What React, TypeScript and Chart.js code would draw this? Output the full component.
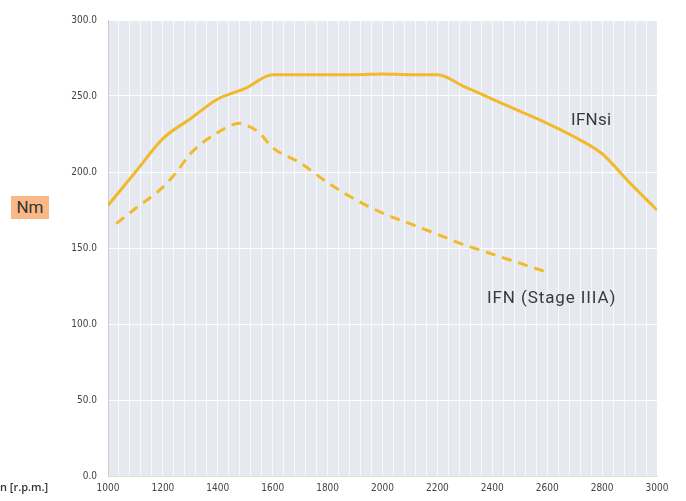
import React, { useEffect, useRef } from "react";
import { Chart, registerables } from "chart.js";

Chart.register(...registerables);

const ifnsiRpm = [1000, 1100, 1200, 1300, 1400, 1500, 1600, 1700, 1800, 1900, 2000, 2100, 2200, 2300, 2400, 2500, 2600, 2700, 2800, 2900, 3000];
const ifnsiTorque = [178, 200, 222, 235, 248, 255, 264, 264, 264, 264, 264.5, 264, 264, 256, 248, 240, 232, 223, 212, 193, 175];

const ifnRpm = [1030, 1100, 1200, 1250, 1300, 1400, 1480, 1500, 1550, 1600, 1700, 1800, 1900, 2000, 2100, 2200, 2300, 2400, 2500, 2600];
const ifnTorque = [166, 176, 190, 200, 212, 226, 232, 231, 226, 216, 206, 193, 182, 173, 166, 159, 152, 146, 140, 134];

const xTickLabels = [1000, 1200, 1400, 1600, 1800, 2000, 2200, 2400, 2600, 2800, 3000];
const yTickValues = [0, 50, 100, 150, 200, 250, 300];

const seriesNames = ["IFNsi", "IFN (Stage IIIA)"];
const lineColor = "#f2b92c";

const bgPlugin = {
  id: "plotBg",
  beforeDraw(chart: any) {
    const { ctx, chartArea } = chart;
    if (!chartArea) return;
    ctx.save();
    ctx.fillStyle = "#e6eaf0";
    ctx.fillRect(chartArea.left, chartArea.top, chartArea.right - chartArea.left, chartArea.bottom - chartArea.top);
    ctx.restore();
  },
};

export default function App() {
  const ref = useRef<HTMLCanvasElement>(null);
  useEffect(() => {
    if (!ref.current) return;
    const chart = new Chart(ref.current, {
      type: "line",
      data: {
        datasets: [
          {
            label: seriesNames[0],
            data: ifnsiRpm.map((x, i) => ({ x, y: ifnsiTorque[i] })),
            borderColor: lineColor,
            borderWidth: 3,
            pointRadius: 0,
            cubicInterpolationMode: "monotone",
            fill: false,
          },
          {
            label: seriesNames[1],
            data: ifnRpm.map((x, i) => ({ x, y: ifnTorque[i] })),
            borderColor: lineColor,
            borderWidth: 3,
            borderDash: [10, 7],
            pointRadius: 0,
            cubicInterpolationMode: "monotone",
            fill: false,
          },
        ],
      },
      options: {
        animation: false,
        responsive: false,
        maintainAspectRatio: false,
        layout: { padding: { left: 0, right: 29, top: 20, bottom: 0 } },
        plugins: { legend: { display: false }, tooltip: { enabled: false } },
        scales: {
          x: {
            type: "linear",
            min: 1000,
            max: 3000,
            afterFit: (s: any) => { s.height = 25; },
            afterBuildTicks: (s: any) => {
              const t = [];
              for (let v = 1000; v <= 3000; v += 40) t.push({ value: v });
              s.ticks = t;
            },
            ticks: {
              autoSkip: false,
              maxRotation: 0,
              padding: 6,
              color: "#444",
              font: { family: "DejaVu Sans Condensed", size: 10 },
              callback: (v: any) => (xTickLabels.includes(v) ? String(v) : ""),
            },
            grid: { color: "rgba(255,255,255,0.7)", lineWidth: 1, drawTicks: false },
            border: { color: "#dde3c4", width: 1 },
          },
          y: {
            min: 0,
            max: 300,
            afterFit: (s: any) => { s.width = 108; },
            afterBuildTicks: (s: any) => { s.ticks = yTickValues.map((v) => ({ value: v })); },
            ticks: {
              padding: 11,
              color: "#444",
              font: { family: "DejaVu Sans Condensed", size: 10 },
              callback: (v: any) => Number(v).toFixed(1),
            },
            grid: { color: "#ffffff", lineWidth: 1, drawTicks: false },
            border: { color: "#c9ced6", width: 1 },
          },
        },
      },
      plugins: [bgPlugin],
    } as any);
    return () => chart.destroy();
  }, []);

  return (
    <div style={{ position: "fixed", left: 0, top: 0, width: 686, height: 501, background: "#fff" }}>
      <canvas ref={ref} width={686} height={501} style={{ display: "block" }} />
      <div style={{ position: "absolute", left: 11, top: 196, width: 38, height: 23, background: "#f9b886", fontFamily: "Roboto, sans-serif", fontSize: 17, color: "#333", lineHeight: "23px", textAlign: "center" }}>Nm</div>
      <div style={{ position: "absolute", left: 0, top: 480, fontFamily: "'Open Sans', sans-serif", fontSize: 11, fontWeight: 600, color: "#333", lineHeight: "14px" }}>n [r.p.m.]</div>
      <div style={{ position: "absolute", left: 571, top: 108, fontFamily: "Roboto, sans-serif", fontSize: 17, color: "#3a3a3a", lineHeight: "22px", letterSpacing: 0.3 }}>{seriesNames[0]}</div>
      <div style={{ position: "absolute", left: 487, top: 286, fontFamily: "Roboto, sans-serif", fontSize: 17, color: "#3a3a3a", lineHeight: "22px", letterSpacing: 0.9 }}>{seriesNames[1]}</div>
    </div>
  );
}
